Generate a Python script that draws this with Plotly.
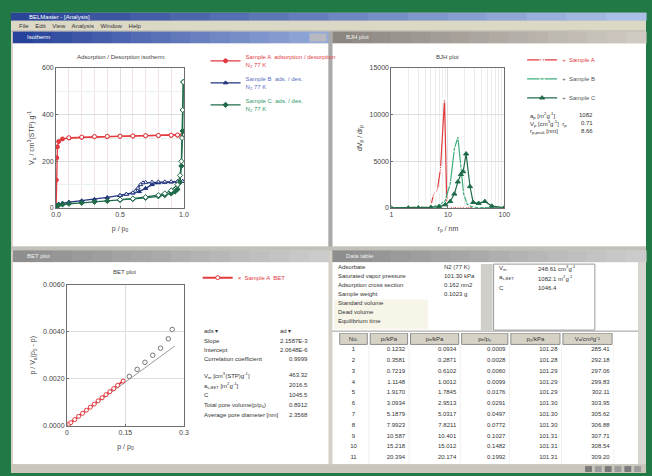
import plotly.graph_objects as go

W, H = 652, 476
def X(p): return p / W
def Y(p): return 1 - p / H

FONT = "Liberation Sans, Arial, sans-serif"
RED = "#e23a3f"
BLUE = "#23357e"
GREEN = "#1f6b4a"
LGREEN = "#3fae7c"

# ---------------- data: isotherm (top-left) ----------------
A_ads_p = [0.000, 0.002, 0.005, 0.010, 0.020, 0.050, 0.100, 0.200, 0.300, 0.400, 0.500, 0.600, 0.700, 0.800, 0.900, 0.950, 0.990]
A_ads_v = [0, 120, 215, 262, 285, 296, 300, 303, 305, 306, 307, 308, 309, 310, 311, 312, 314]
A_des_p = [0.990, 0.950, 0.900, 0.800, 0.700, 0.600, 0.500, 0.400, 0.300, 0.200, 0.100]
A_des_v = [314, 313, 312, 311, 310, 309, 308, 307, 306, 304, 301]

B_ads_p = [0.0, 0.005, 0.02, 0.05, 0.1, 0.2, 0.3, 0.4, 0.5, 0.55, 0.6, 0.65, 0.7, 0.75, 0.8, 0.85, 0.9, 0.95, 0.99]
B_ads_v = [0, 12, 17, 21, 25, 31, 37, 45, 54, 59, 64, 70, 84, 100, 108, 110, 111, 112, 114]
B_des_p = [0.99, 0.95, 0.9, 0.85, 0.8, 0.75, 0.7, 0.68, 0.66, 0.64, 0.62, 0.6, 0.55, 0.5]
B_des_v = [114, 113, 113, 112, 112, 111, 110, 108, 100, 85, 72, 65, 59, 54]

C_ads_p = [0.0, 0.005, 0.02, 0.05, 0.1, 0.2, 0.3, 0.4, 0.5, 0.6, 0.7, 0.8, 0.85, 0.9, 0.93, 0.95, 0.97, 0.98, 0.99, 0.995]
C_ads_v = [0, 8, 12, 15, 18, 22, 26, 30, 34, 38, 43, 50, 55, 62, 70, 80, 110, 180, 330, 540]
C_des_p = [0.995, 0.99, 0.985, 0.98, 0.97, 0.95, 0.9, 0.85, 0.8, 0.7, 0.6, 0.5]
C_des_v = [540, 420, 300, 200, 140, 100, 75, 62, 55, 46, 40, 36]

iso_xticks = [0.0, 0.5, 1.0]
iso_xticklabels = ["0.0", "0.5", "1.0"]
iso_yticks = [0, 200, 400, 600]

# ---------------- data: BJH (top-right) ----------------
bjhA_r = [1.0, 1.5, 2, 3, 4, 5, 5.6, 6.5, 7.4, 8.7, 9.6, 11, 13, 16, 20, 30, 50, 100]
bjhA_d = [0, 5, 10, 30, 80, 250, 1500, 1900, 4200, 11600, 300, 60, 20, 10, 5, 3, 2, 1]
bjhB_r = [1, 2, 3, 5, 7, 9, 11, 13, 15, 17, 19, 22, 26, 32, 40, 60, 100]
bjhB_d = [0, 10, 30, 100, 300, 800, 2600, 6300, 7600, 4500, 1500, 400, 150, 60, 30, 10, 5]
bjhC_r = [1, 2, 3, 5, 7, 9, 11, 13, 15, 17, 18.6, 21, 24.6, 28, 35, 45, 60, 100]
bjhC_d = [0, 5, 20, 60, 150, 350, 700, 1500, 2800, 3600, 3900, 5800, 2300, 600, 500, 700, 200, 50]
bjh_xticks = [1, 10, 100]
bjh_minor = [2, 3, 4, 5, 6, 7, 8, 9, 20, 30, 40, 50, 60, 70, 80, 90]
bjh_yticks = [0, 5000, 10000, 15000]

# ---------------- data: BET (bottom-left) ----------------
bet_in_x = [0.005, 0.01, 0.02, 0.03, 0.04, 0.05, 0.06, 0.07, 0.08, 0.09, 0.10, 0.11, 0.12, 0.13, 0.144]
bet_in_y = [0.00007, 0.00013, 0.00026, 0.0004, 0.00053, 0.00066, 0.00079, 0.00092, 0.00106, 0.00119, 0.00132, 0.00145, 0.00158, 0.00172, 0.0019]
bet_out_x = [0.16, 0.18, 0.20, 0.22, 0.24, 0.26, 0.27]
bet_out_y = [0.0021, 0.0024, 0.0027, 0.0030, 0.0033, 0.0037, 0.0041]
bet_fit_x = [0.0, 0.277]
bet_fit_y = [0.00003, 0.0034]
bet_xticks = [0, 0.15, 0.3]
bet_xticklabels = ["0", "0.15", "0.3"]
bet_yticks = [0, 0.002, 0.004, 0.006]

# ---------------- data: table (bottom-right) ----------------
tbl_header = ["No.", "pᵢ/kPa", "pₑ/kPa", "pₑ/p₀", "p₀/kPa", "Vₐ/cm³g⁻¹"]
tbl_no = ["1", "2", "3", "4", "5", "6", "7", "8", "9", "10", "11"]
tbl_pi = ["0.1232", "0.3581", "0.7219", "1.1148", "1.9170", "3.0934", "5.1879", "7.9923", "10.587", "15.218", "20.394"]
tbl_pe = ["0.0934", "0.2871", "0.6102", "1.0012", "1.7845", "2.9513", "5.0317", "7.8211", "10.401", "15.012", "20.174"]
tbl_pp0 = ["0.0009", "0.0028", "0.0060", "0.0099", "0.0176", "0.0291", "0.0497", "0.0772", "0.1027", "0.1482", "0.1992"]
tbl_p0 = ["101.28", "101.28", "101.29", "101.29", "101.29", "101.30", "101.30", "101.30", "101.31", "101.31", "101.31"]
tbl_va = ["285.41", "292.18", "297.06", "299.83", "302.11", "303.95", "305.62", "306.88", "307.71", "308.54", "309.20"]
tbl_columns = [tbl_no, tbl_pi, tbl_pe, tbl_pp0, tbl_p0, tbl_va]
tbl_colwidths = [31, 41, 52, 50, 53, 53]

fig = go.Figure()

# ---- isotherm traces
def iso(xs, ys, color, sym, name, show, filled=True):
    fig.add_trace(go.Scatter(
        x=xs, y=ys, mode="lines+markers", xaxis="x", yaxis="y",
        line=dict(color=color, width=1.3),
        marker=dict(color=color if filled else "white", size=4, symbol=sym,
                    line=dict(color=color, width=1)),
        name=name, legendgroup=name, showlegend=show, legend="legend"))

nA = "<span style='color:#e23a3f'>Sample A  adsorption / desorption</span><br><span style='color:#e23a3f'>N<sub>2</sub> 77 K</span>"
nB = "<span style='color:#5a6fbf'>Sample B  ads. / des.</span><br><span style='color:#5a6fbf'>N<sub>2</sub> 77 K</span>"
nC = "<span style='color:#2f9a66'>Sample C  ads. / des.</span><br><span style='color:#2f9a66'>N<sub>2</sub> 77 K</span>"
iso(A_ads_p, A_ads_v, RED, "circle", nA, True)
iso(A_des_p, A_des_v, RED, "circle", nA, False, filled=False)
iso(B_ads_p, B_ads_v, BLUE, "triangle-up", nB, True)
iso(B_des_p, B_des_v, BLUE, "triangle-up", nB, False, filled=False)
iso(C_ads_p, C_ads_v, GREEN, "diamond", nC, True)
iso(C_des_p, C_des_v, GREEN, "diamond", nC, False, filled=False)

# ---- BJH traces
def bjh(xs, ys, color, sym, name, filled=True):
    fig.add_trace(go.Scatter(
        x=xs, y=ys, mode="lines+markers", xaxis="x2", yaxis="y2",
        line=dict(color=color, width=1.2),
        marker=dict(color=color if filled else "white", size=4.5, symbol=sym,
                    line=dict(color=color, width=1)),
        name=name, legend="legend2"))

bjh(bjhA_r, bjhA_d, RED, "square-x-open", "<span style='color:#e23a3f'>+  Sample A</span>", filled=False)
bjh(bjhB_r, bjhB_d, LGREEN, "circle-open", "<span style='color:#555'>+  Sample B</span>", filled=False)
bjh(bjhC_r, bjhC_d, GREEN, "triangle-up", "<span style='color:#555'>+  Sample C</span>")

# ---- BET traces
fig.add_trace(go.Scatter(x=bet_fit_x, y=bet_fit_y, mode="lines", xaxis="x3", yaxis="y3",
                         line=dict(color="#9a9a9a", width=1), showlegend=False))
fig.add_trace(go.Scatter(x=bet_in_x, y=bet_in_y, mode="lines+markers", xaxis="x3", yaxis="y3",
                         line=dict(color=RED, width=2),
                         marker=dict(color="white", size=4, symbol="circle", line=dict(color=RED, width=1)),
                         name="<span style='color:#e23a3f'>×  Sample A  BET</span>", legend="legend3"))
fig.add_trace(go.Scatter(x=bet_out_x, y=bet_out_y, mode="markers", xaxis="x3", yaxis="y3",
                         marker=dict(color="white", size=4.5, symbol="circle", line=dict(color="#777", width=1)),
                         showlegend=False))

# ---- table (text cells on their own axis: x = column units, y = row number)
edges = [0]
for w in tbl_colwidths:
    edges.append(edges[-1] + w)
rows = list(range(1, len(tbl_no) + 1))
for j, col in enumerate(tbl_columns):
    if j == 0:
        xs = [(edges[0] + edges[1]) / 2] * len(col)
        pos = "middle center"
    else:
        xs = [edges[j + 1] - 4] * len(col)
        pos = "middle left"
    fig.add_trace(go.Scatter(x=xs, y=rows, text=col, mode="text", textposition=pos,
                             textfont=dict(size=6, color="#333", family=FONT),
                             xaxis="x4", yaxis="y4", showlegend=False, hoverinfo="skip"))
fig.add_trace(go.Scatter(x=[(edges[j] + edges[j + 1]) / 2 for j in range(len(tbl_header))],
                         y=[0] * len(tbl_header), text=tbl_header, mode="text",
                         textposition="middle center",
                         textfont=dict(size=6, color="#333", family=FONT),
                         xaxis="x4", yaxis="y4", showlegend=False, hoverinfo="skip"))

# ---------------- window chrome (shapes) ----------------
shapes = []
def rect(x0, y0, x1, y1, fill, line=None, lw=0, layer="below"):
    shapes.append(dict(type="rect", xref="paper", yref="paper",
                       x0=X(x0), x1=X(x1), y0=Y(y1), y1=Y(y0),
                       fillcolor=fill, line=dict(color=line or fill, width=lw), layer=layer))
def hline(x0, x1, y, color, w=1):
    shapes.append(dict(type="line", xref="paper", yref="paper", x0=X(x0), x1=X(x1), y0=Y(y), y1=Y(y),
                       line=dict(color=color, width=w), layer="below"))

def gradient(x0, y0, x1, y1, c0, c1, n=16):
    def h2r(c): return [int(c[i:i+2], 16) for i in (1, 3, 5)]
    a, b = h2r(c0), h2r(c1)
    step = (x1 - x0) / n
    for i in range(n):
        t = i / (n - 1)
        col = "rgb(%d,%d,%d)" % tuple(round(a[k] + (b[k] - a[k]) * t) for k in range(3))
        rect(x0 + i * step, y0, x0 + (i + 1) * step + 0.6, y1, col)

rect(6, 9, 652, 476, "#d4d0c8")                      # window body
gradient(6, 9, 652, 17, "#2a4596", "#a9c0e6")         # window title bar
rect(6, 17, 652, 27, "#dcd8c6")                      # menu bar
rect(6, 27, 652, 28, "#b8b4a8")
# top-left panel (active)
gradient(8, 28, 329, 40, "#27429a", "#93a9d8")
rect(8, 40, 329, 246, "white")
rect(310, 30, 327, 38, "#b8b8c0")
# top-right panel
gradient(333, 28, 652, 40, "#8c8680", "#cfcac2")
rect(333, 40, 652, 246, "white")
# dividers
rect(329, 28, 333, 250, "#a9a9a9")
rect(6, 246, 652, 250, "#c2c0b8")
# bottom-left panel
gradient(8, 250, 329, 262, "#8e8e8e", "#cbcbcb")
rect(8, 262, 329, 467, "white")
# bottom-right panel
gradient(333, 250, 652, 262, "#8e8e8e", "#cbcbcb")
rect(333, 262, 644, 467, "white")
rect(644, 262, 652, 467, "#d8d6d0")
rect(335, 300, 430, 330, "#f6f5e8")                   # pale edit area
rect(484, 264, 496, 331, "#d0cec8")                   # small scrollbar
rect(497, 264, 600, 331, "white", "#9a9a9a", 1)      # info box
hline(333, 644, 332, "#9a9a9a")
# table header cells and column separators
for j in range(len(tbl_colwidths)):
    shapes.append(dict(type="rect", xref="x4", yref="y4", x0=edges[j] + 1.5, x1=edges[j + 1] - 1.5,
                       y0=-0.55, y1=0.5, fillcolor="#d6d2c6", line=dict(color="#8c8c8c", width=1),
                       layer="below"))
    shapes.append(dict(type="line", xref="x4", yref="y4", x0=edges[j + 1], x1=edges[j + 1],
                       y0=0.5, y1=11.6, line=dict(color="#f0f0f0", width=1), layer="below"))
# status bar
rect(6, 467, 652, 476, "#c8c5bb")
for i, xx in enumerate([590, 600, 610, 620, 630, 640]):
    rect(xx, 469, xx + 7, 475, "#9c9c9c" if i % 2 else "#7a7a7a")
rect(0, 0, 6, 476, "#217a45")

# ---------------- annotations (text) ----------------
ann = []
def txt(x, y, s, size=6, color="#333", xa="left", ya="middle", angle=0):
    ann.append(dict(x=X(x), y=Y(y), xref="paper", yref="paper", text=s, showarrow=False,
                    xanchor=xa, yanchor=ya, textangle=angle,
                    font=dict(size=size, color=color, family=FONT)))

txt(22, 13, "BELMaster - [Analysis]", 6, "white")
txt(12, 22, "File    Edit    View    Analysis    Window    Help", 6, "#333")
txt(20, 34, "Isotherm", 6, "white")
txt(345, 34, "BJH plot", 6, "#f0f0f0")
txt(20, 256, "BET plot", 6, "#f0f0f0")
txt(345, 256, "Data table", 6, "#f0f0f0")

txt(117, 54, "Adsorption / Desorption isotherm", 6, "#444", xa="center")
txt(450, 54, "BJH plot", 6, "#444", xa="center")
txt(122, 272, "BET plot", 6, "#444", xa="center")

# BJH info
txt(532, 113, "a<sub>p</sub> [m<sup>2</sup>g<sup>-1</sup>]", 6)
txt(600, 113, "1082", 6, xa="right")
txt(532, 121, "V<sub>p</sub> [cm<sup>3</sup>g<sup>-1</sup>]  r<sub>p</sub>", 6)
txt(600, 121, "0.71", 6, xa="right")
txt(532, 129, "r<sub>p,peak</sub> [nm]", 6)
txt(600, 129, "8.66", 6, xa="right")

# BET info
bet_lab = ["Slope", "Intercept", "Correlation coefficient"]
bet_val = ["2.1587E-3", "2.0648E-6", "0.9999"]
txt(200, 332, "ads ▾", 6); txt(278, 332, "ad ▾", 6)
for i, (l, v) in enumerate(zip(bet_lab, bet_val)):
    txt(200, 342 + i * 9, l, 6)
    txt(310, 342 + i * 9, v, 6, xa="right")
bet_lab2 = ["V<sub>m</sub> [cm<sup>3</sup>(STP)g<sup>-1</sup>]", "a<sub>s,BET</sub> [m<sup>2</sup>g<sup>-1</sup>]", "C",
            "Total pore volume(p/p<sub>0</sub>)", "Average pore diameter [nm]"]
bet_val2 = ["463.32", "2016.5", "1045.5", "0.8912", "2.3568"]
for i, (l, v) in enumerate(zip(bet_lab2, bet_val2)):
    txt(200, 377 + i * 10, l, 6)
    txt(310, 377 + i * 10, v, 6, xa="right")

# BR info
br_lab = ["Adsorbate", "Saturated vapor pressure", "Adsorption cross section", "Sample weight",
          "Standard volume", "Dead volume", "Equilibrium time"]
br_val = ["N2 (77 K)", "101.30 kPa", "0.162 nm2", "0.1023 g"]
for i, l in enumerate(br_lab):
    txt(337, 267 + i * 9.2, l, 6)
for i, v in enumerate(br_val):
    txt(445, 267 + i * 9.2, v, 6)
txt(500, 268, "V<sub>m</sub>", 6); txt(540, 268, "248.61 cm<sup>3</sup>g<sup>-1</sup>", 6)
txt(500, 278, "a<sub>s,BET</sub>", 6); txt(540, 278, "1082.1 m<sup>2</sup>g<sup>-1</sup>", 6)
txt(500, 288, "C", 6); txt(540, 288, "1046.4", 6)

# ---------------- axes ----------------
def ax(dom, **kw):
    d = dict(domain=dom, showline=True, linecolor="#6e6e6e", linewidth=1, mirror=True,
             showgrid=True, gridcolor="#dedede", gridwidth=1, zeroline=False,
             ticks="inside", ticklen=2, tickcolor="#6e6e6e",
             tickfont=dict(size=7, color="#444", family=FONT))
    d.update(kw)
    return d

title_font = dict(size=7, color="#444", family=FONT)

fig.update_layout(
    width=W, height=H, autosize=False,
    margin=dict(l=0, r=0, t=0, b=0, pad=0),
    paper_bgcolor="#217a45", plot_bgcolor="white",
    font=dict(family=FONT),
    shapes=shapes, annotations=ann,
    xaxis=ax([X(52), X(182)], anchor="y", range=[0, 1.0], tickvals=iso_xticks, ticktext=iso_xticklabels,
             minor=dict(dtick=0.1, showgrid=True, gridcolor="#f0e4ea"),
             title=dict(text="p / p<sub>0</sub>", font=title_font, standoff=8)),
    yaxis=ax([Y(207), Y(65)], anchor="x", range=[0, 600], tickvals=iso_yticks,
             minor=dict(dtick=100, showgrid=True, gridcolor="#eaf2ec"),
             title=dict(text="V<sub>a</sub> / cm<sup>3</sup>(STP) g<sup>-1</sup>", font=title_font, standoff=6)),
    xaxis2=ax([X(393), X(508)], anchor="y2", type="log", range=[0, 2], tickvals=bjh_xticks,
              minor=dict(tickvals=bjh_minor, showgrid=True, gridcolor="#ececec"),
              title=dict(text="r<sub>p</sub> / nm", font=title_font, standoff=8)),
    yaxis2=ax([Y(207), Y(65)], anchor="x2", range=[0, 15000], tickvals=bjh_yticks, tickformat="d",
              title=dict(text="dV<sub>p</sub> / dr<sub>p</sub>", font=title_font, standoff=6)),
    xaxis3=ax([X(63), X(182)], anchor="y3", range=[0, 0.3], tickvals=bet_xticks, ticktext=bet_xticklabels,
              title=dict(text="p / p<sub>0</sub>", font=title_font, standoff=8)),
    yaxis3=ax([Y(428), Y(285)], anchor="x3", range=[0, 0.006], tickvals=bet_yticks, tickformat=".4f",
              title=dict(text="p / V<sub>a</sub>(p<sub>0</sub> - p)", font=title_font, standoff=6)),
    xaxis4=dict(domain=[X(339), X(619)], anchor="y4", range=[0, edges[-1]], visible=False, fixedrange=True),
    yaxis4=dict(domain=[Y(467), Y(334)], anchor="x4", range=[11.6, -0.55], visible=False, fixedrange=True),
    legend=dict(x=X(204), y=Y(43), xanchor="left", yanchor="top", bgcolor="rgba(0,0,0,0)",
                font=dict(size=6, family=FONT), itemwidth=30, tracegroupgap=3),
    legend2=dict(x=X(526), y=Y(42), xanchor="left", yanchor="top", bgcolor="rgba(0,0,0,0)",
                 font=dict(size=6, family=FONT), itemwidth=30, tracegroupgap=0),
    legend3=dict(x=X(196), y=Y(263), xanchor="left", yanchor="top", bgcolor="rgba(0,0,0,0)",
                 font=dict(size=6, family=FONT), itemwidth=30),
)

fig.write_html("out.html", config={"displayModeBar": False},
               post_script="document.body.style.margin='0';document.body.style.overflow='hidden';")
